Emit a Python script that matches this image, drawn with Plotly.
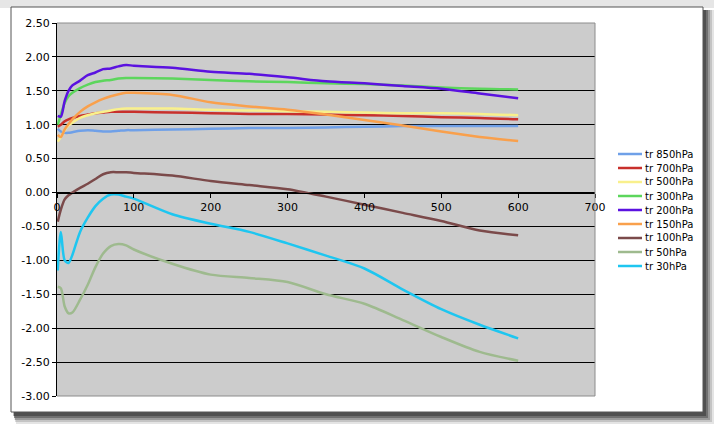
import plotly.graph_objects as go

# x positions shared by every series
dist = [1, 5, 10, 15, 20, 30, 40, 50, 60, 70, 80, 90, 100,
        150, 200, 250, 300, 350, 400, 450, 500, 550, 600]

tr_850 = [0.94, 0.90, 0.88, 0.88, 0.89, 0.91, 0.92, 0.91, 0.90, 0.90, 0.91, 0.92, 0.92,
          0.93, 0.94, 0.95, 0.95, 0.96, 0.97, 0.98, 0.98, 0.98, 0.98]
tr_700 = [0.97, 1.00, 1.05, 1.08, 1.10, 1.13, 1.15, 1.17, 1.18, 1.19, 1.19, 1.19, 1.19,
          1.18, 1.17, 1.16, 1.16, 1.15, 1.14, 1.13, 1.11, 1.10, 1.08]
tr_500 = [0.75, 0.82, 0.92, 0.99, 1.03, 1.10, 1.14, 1.17, 1.19, 1.21, 1.23, 1.24, 1.24,
          1.24, 1.22, 1.21, 1.20, 1.19, 1.18, 1.17, 1.17, 1.16, 1.14]
tr_300 = [1.00, 1.15, 1.32, 1.42, 1.47, 1.54, 1.59, 1.63, 1.65, 1.66, 1.68, 1.69, 1.69,
          1.68, 1.66, 1.64, 1.63, 1.61, 1.60, 1.58, 1.55, 1.53, 1.52]
tr_200 = [1.13, 1.12, 1.35, 1.50, 1.58, 1.65, 1.73, 1.77, 1.82, 1.83, 1.86, 1.88, 1.87,
          1.84, 1.78, 1.75, 1.70, 1.64, 1.61, 1.57, 1.53, 1.46, 1.39]
tr_150 = [0.85, 0.82, 0.93, 1.01, 1.08, 1.19, 1.27, 1.33, 1.38, 1.42, 1.45, 1.47, 1.47,
          1.44, 1.33, 1.27, 1.22, 1.15, 1.07, 0.99, 0.90, 0.82, 0.76]
tr_100 = [-0.43, -0.25, -0.10, -0.04, 0.00, 0.07, 0.13, 0.20, 0.27, 0.30, 0.30, 0.30, 0.29,
          0.25, 0.17, 0.11, 0.05, -0.06, -0.18, -0.30, -0.42, -0.56, -0.63]
tr_50 = [-1.39, -1.41, -1.68, -1.78, -1.77, -1.58, -1.36, -1.10, -0.90, -0.79, -0.76, -0.78, -0.84,
         -1.05, -1.21, -1.26, -1.32, -1.50, -1.64, -1.88, -2.13, -2.35, -2.48]
tr_30 = [-1.15, -0.58, -1.00, -1.04, -0.92, -0.58, -0.37, -0.20, -0.09, -0.03, -0.03, -0.06, -0.09,
         -0.32, -0.46, -0.58, -0.75, -0.93, -1.12, -1.43, -1.72, -1.95, -2.15]

series_names = ["tr 850hPa", "tr 700hPa", "tr 500hPa", "tr 300hPa", "tr 200hPa",
                "tr 150hPa", "tr 100hPa", "tr 50hPa", "tr 30hPa"]
series_values = [tr_850, tr_700, tr_500, tr_300, tr_200, tr_150, tr_100, tr_50, tr_30]
series_colors = ["#6fa0e8", "#c8302c", "#f9f08c", "#5cd65c", "#5b12e0",
                 "#f9a04c", "#7b4a4a", "#9eba8e", "#1ec6f0"]

y_ticks = [2.5, 2.0, 1.5, 1.0, 0.5, 0.0, -0.5, -1.0, -1.5, -2.0, -2.5, -3.0]
y_labels = ["2.50", "2.00", "1.50", "1.00", "0.50", "0.00",
            "-0.50", "-1.00", "-1.50", "-2.00", "-2.50", "-3.00"]
x_ticks = [0, 100, 200, 300, 400, 500, 600, 700]

W, H = 714, 429
L, R, T, B = 57, 595, 23, 396   # plot area in pixels


def fx(px):
    return (px - L) / (R - L)


def fy(py):
    return (B - py) / (B - T)


fig = go.Figure()
for name, vals, col in zip(series_names, series_values, series_colors):
    fig.add_trace(go.Scatter(
        x=dist, y=vals, name=name, mode="lines", showlegend=False,
        line=dict(color=col, width=2.5, shape="spline", smoothing=0.8),
    ))

shapes = []
# window strip + frame shadow
shapes.append(dict(type="rect", xref="paper", yref="paper", x0=fx(0), x1=fx(W), y0=fy(0), y1=fy(8),
                   fillcolor="#e6e6e6", line_width=0, layer="below"))
for k, c in enumerate(["#e4e4e4", "#c4c4c4", "#9a9a9a", "#707070", "#505050"]):
    off = 10 - 2 * k
    shapes.append(dict(type="rect", xref="paper", yref="paper",
                       x0=fx(13 + off * 0.3), x1=fx(704 + off), y0=fy(10), y1=fy(412 + off + 2),
                       fillcolor=c, line_width=0, layer="below"))
shapes.append(dict(type="rect", xref="paper", yref="paper", x0=fx(11), x1=fx(703), y0=fy(7), y1=fy(412),
                   fillcolor="white", line=dict(color="#555555", width=1), layer="below"))
shapes.append(dict(type="rect", xref="paper", yref="paper", x0=0, x1=1, y0=0, y1=1,
                   fillcolor="#cccccc", line_width=0, layer="below"))
# gray plot-area border (top, right, bottom)
for x0, y0, x1, y1 in [(0, 1, 1, 1), (1, 0, 1, 1), (0, 0, 1, 0)]:
    shapes.append(dict(type="line", xref="paper", yref="paper", x0=x0, y0=y0, x1=x1, y1=y1,
                       line=dict(color="#8c8c8c", width=1), layer="above"))

# compact Excel-style legend (plotly's own legend rows are too tall)
annotations = []
for i, (name, col) in enumerate(zip(series_names, series_colors)):
    ypx = 154 + 14 * i
    shapes.append(dict(type="line", xref="paper", yref="paper",
                       x0=fx(618), x1=fx(642), y0=fy(ypx), y1=fy(ypx),
                       line=dict(color=col, width=2.5)))
    annotations.append(dict(xref="paper", yref="paper", x=fx(643), y=fy(ypx),
                            xanchor="left", yanchor="middle", showarrow=False,
                            text=name, font=dict(size=10, color="black")))

font = "DejaVu Sans, Verdana, sans-serif"
fig.update_layout(
    width=W, height=H,
    margin=dict(l=L, r=W - R, t=T, b=H - B),
    paper_bgcolor="white",
    plot_bgcolor="rgba(0,0,0,0)",
    font=dict(family=font, size=11, color="black"),
    shapes=shapes,
    annotations=annotations,
    showlegend=False,
    xaxis=dict(range=[0, 700], tickvals=x_ticks, showgrid=False, zeroline=False,
               showline=True, linecolor="black", linewidth=1,
               ticks="outside", ticklen=4, tickcolor="black",
               anchor="free", position=3 / 5.5, tickfont=dict(size=11)),
    yaxis=dict(range=[-3, 2.5], tickvals=y_ticks, ticktext=y_labels,
               showgrid=True, gridcolor="black", gridwidth=1, zeroline=False,
               showline=True, linecolor="black", linewidth=1,
               ticks="outside", ticklen=4, tickcolor="black", tickfont=dict(size=11)),
)

fig.write_html("out.html", config={"displayModeBar": False},
               post_script="document.body.style.margin='0';")
